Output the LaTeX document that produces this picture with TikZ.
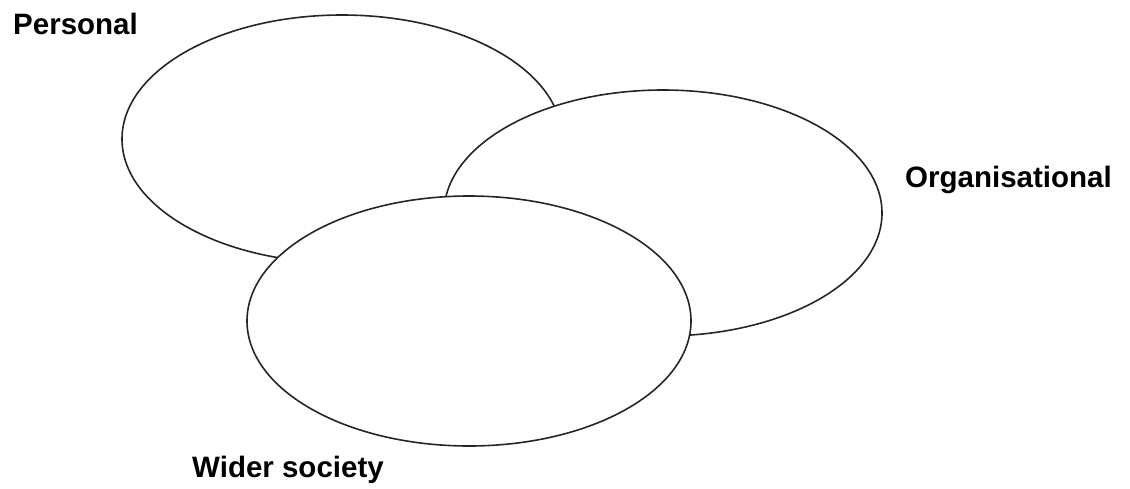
\documentclass[tikz,border=0pt]{standalone}
\usepackage{fontspec}
\setmainfont{Liberation Sans}
\usetikzlibrary{shapes.geometric}
\begin{document}
\begin{tikzpicture}[x=1pt,y=-1pt,
  blob/.style={draw=black!85,fill=white,line width=1.6pt,ellipse,inner sep=0pt},
  lab/.style={font=\fontsize{29.5}{34}\selectfont\bfseries,anchor=base west,inner sep=0pt}]
\useasboundingbox (0,0) rectangle (1130,488);
\node[blob,minimum width=440pt,minimum height=248pt] (e1) at (342,139) {};
\node[blob,minimum width=438pt,minimum height=246pt] (e2) at (663,213) {};
\node[blob,minimum width=444pt,minimum height=250pt] (e3) at (469,321) {};
\node[lab] (personal) at (13,34) {Personal};
\node[lab] (org) at (905,187) {Organisational};
\node[lab] (wider) at (192,477) {Wider society};
\end{tikzpicture}
\end{document}
